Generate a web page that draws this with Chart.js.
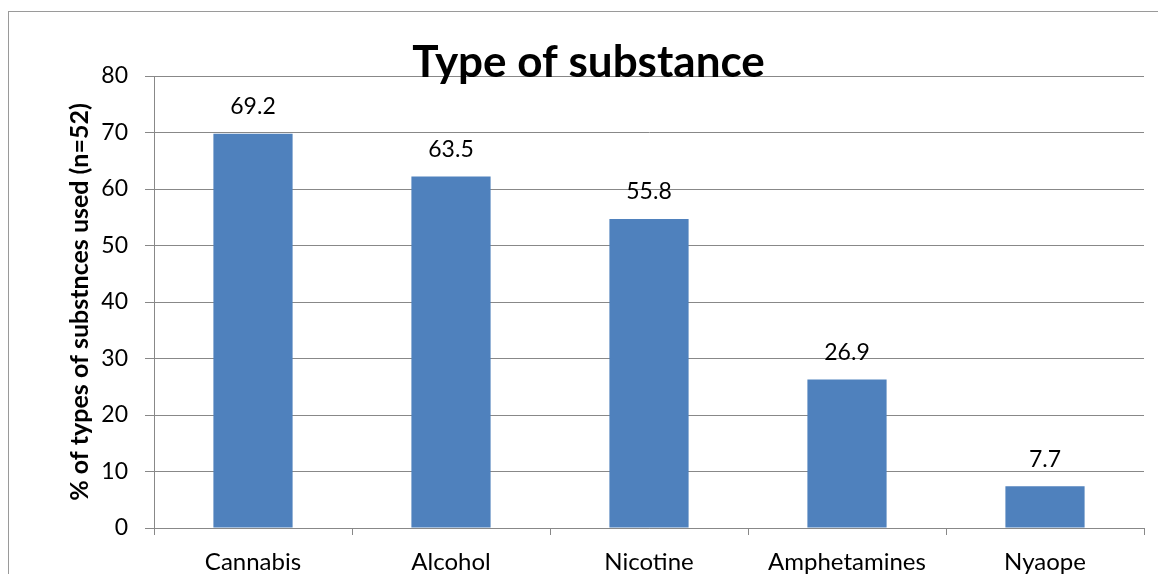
<!DOCTYPE html>
<html><head><meta charset="utf-8">
<script src="https://cdn.jsdelivr.net/npm/chart.js@4"></script>
<style>html,body{margin:0;padding:0;background:#fff;}#wrap{width:1158px;height:574px;position:relative;}</style>
</head><body><div id="wrap"><canvas id="c" width="1158" height="574"></canvas></div>
<script>
const chartTitle = 'Type of substance';
const yAxisTitle = '% of types of substnces used (n=52)';
const categories = ['Cannabis', 'Alcohol', 'Nicotine', 'Amphetamines', 'Nyaope'];
const barValues = [69.8, 62.2, 54.7, 26.3, 7.4];
const valueLabels = ['69.2', '63.5', '55.8', '26.9', '7.7'];
const yTickValues = [0, 10, 20, 30, 40, 50, 60, 70, 80];

const FONT = 'Lato';
const GRID = '#888888';

const framePlugin = {
  id: 'frame',
  beforeDraw(chart) {
    const ctx = chart.ctx;
    ctx.save();
    ctx.fillStyle = '#ffffff';
    ctx.fillRect(0, 0, chart.width, chart.height);
    ctx.strokeStyle = '#9a9a9a';
    ctx.lineWidth = 1;
    ctx.strokeRect(8.5, 11.5, 1300, 700);
    ctx.restore();
  }
};

const labelsPlugin = {
  id: 'valueLabels',
  afterDatasetsDraw(chart) {
    const ctx = chart.ctx;
    const meta = chart.getDatasetMeta(0);
    ctx.save();
    ctx.font = '23px ' + FONT;
    ctx.fillStyle = '#000';
    ctx.textAlign = 'center';
    ctx.textBaseline = 'middle';
    meta.data.forEach((bar, i) => {
      ctx.fillText(valueLabels[i], bar.x, bar.y - 27);
    });
    ctx.restore();
  }
};

const titlePlugin = {
  id: 'overlayTitle',
  afterDraw(chart) {
    const ctx = chart.ctx;
    ctx.save();
    ctx.font = 'bold 44px ' + FONT;
    ctx.fillStyle = '#000';
    ctx.textAlign = 'center';
    ctx.textBaseline = 'alphabetic';
    ctx.fillText(chartTitle, 588.5, 77);
    ctx.restore();
  }
};

new Chart(document.getElementById('c'), {
  type: 'bar',
  data: {
    labels: categories,
    datasets: [{
      data: barValues,
      backgroundColor: '#4f81bd',
      borderWidth: 0,
      categoryPercentage: 1.0,
      barPercentage: 0.4
    }]
  },
  options: {
    responsive: false,
    animation: false,
    devicePixelRatio: 1,
    layout: { padding: { left: 0, top: 76, right: 14, bottom: 0 } },
    plugins: { legend: { display: false }, tooltip: { enabled: false }, title: { display: false } },
    scales: {
      x: {
        offset: true,
        grid: { display: true, drawOnChartArea: false, drawTicks: true, tickLength: 7, color: GRID, offset: true },
        border: { display: true, color: GRID, width: 1 },
        ticks: { color: '#000', font: { family: FONT, size: 24 }, padding: 13, maxRotation: 0, autoSkip: false },
        afterFit(scale) { scale.height = 46; }
      },
      y: {
        min: 0, max: 80,
        afterBuildTicks(scale) { scale.ticks = yTickValues.map(v => ({ value: v })); },
        grid: { color: GRID, lineWidth: 1, tickLength: 9, drawTicks: true },
        border: { display: true, color: GRID, width: 1 },
        ticks: { color: '#000', font: { family: FONT, size: 23 }, padding: 17 },
        title: { display: true, text: yAxisTitle, color: '#000', font: { family: FONT, size: 25, weight: 'bold' }, padding: { top: 65, bottom: 0 } },
        afterFit(scale) { scale.width = 154; }
      }
    }
  },
  plugins: [framePlugin, labelsPlugin, titlePlugin]
});
</script></body></html>
